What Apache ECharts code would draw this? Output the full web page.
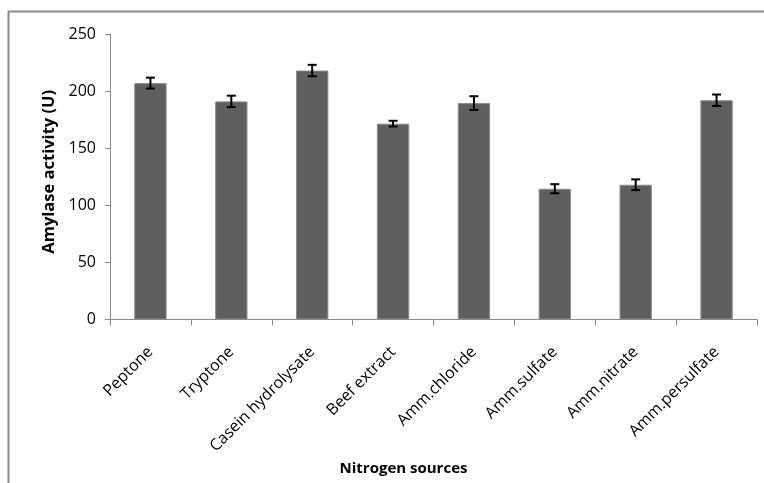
<!DOCTYPE html>
<html>
<head>
<meta charset="utf-8">
<script src="https://cdn.jsdelivr.net/npm/echarts@6/dist/echarts.min.js"></script>
<style>
  html, body { margin: 0; padding: 0; background: #fff; }
  #chart { width: 764px; height: 483px; }
</style>
</head>
<body>
<div id="chart"></div>
<script>
// Amylase activity for each nitrogen source (mean ± error)
const categories = ['Peptone', 'Tryptone', 'Casein hydrolysate', 'Beef extract',
  'Amm.chloride', 'Amm.sulfate', 'Amm.nitrate', 'Amm.persulfate'];
const activity = [207, 191, 218, 171.5, 189.5, 114.5, 118, 192];
const errors = [4.8, 5, 5, 2.5, 6, 4, 4.7, 5];
const yTicks = { min: 0, max: 250, interval: 50 };

const FONT = '"Open Sans", "Noto Sans", sans-serif';

const chart = echarts.init(document.getElementById('chart'), null, { renderer: 'canvas' });

const errorData = activity.map((v, i) => [i, v - errors[i], v + errors[i]]);

chart.setOption({
  animation: false,
  backgroundColor: '#fff',
  graphic: [{
    type: 'rect',
    shape: { x: 8.5, y: 11.5, width: 800, height: 520 },
    style: { fill: 'none', stroke: '#8a8a8a', lineWidth: 2 },
    silent: true,
    z: -1
  }],
  grid: { left: 110, right: 7, top: 34, bottom: 163.5 },
  xAxis: {
    type: 'category',
    data: categories,
    name: 'Nitrogen sources',
    nameLocation: 'middle',
    nameGap: 121,
    nameTextStyle: {
      fontFamily: FONT, fontWeight: 'bold', fontSize: 15, color: '#000',
      padding: [0, 60, 0, 0]
    },
    axisLine: { lineStyle: { color: '#8a8a8a', width: 1 } },
    axisTick: { show: true, length: 6, lineStyle: { color: '#8a8a8a' }, alignWithLabel: false },
    axisLabel: {
      rotate: 45, interval: 0, margin: 30,
      fontFamily: FONT, fontSize: 16, color: '#000'
    }
  },
  yAxis: {
    type: 'value',
    min: yTicks.min, max: yTicks.max, interval: yTicks.interval,
    name: 'Amylase activity (U)',
    nameLocation: 'middle',
    nameGap: 37,
    nameTextStyle: {
      fontFamily: FONT, fontWeight: 'bold', fontSize: 16.5, color: '#000',
      padding: [0, 0, 0, 10]
    },
    axisLine: { show: true, lineStyle: { color: '#8a8a8a', width: 1 } },
    axisTick: { show: true, length: 5, lineStyle: { color: '#8a8a8a' } },
    splitLine: { show: false },
    axisLabel: { margin: 14, fontFamily: FONT, fontSize: 16, color: '#000' }
  },
  series: [
    {
      type: 'bar',
      data: activity,
      barWidth: '40%',
      itemStyle: { color: '#5f5f5f', borderColor: '#8c8c8c', borderWidth: 1 }
    },
    {
      type: 'custom',
      data: errorData,
      z: 10,
      renderItem: function (params, api) {
        const x = api.coord([api.value(0), 0])[0];
        const lo = api.coord([api.value(0), api.value(1)])[1];
        const hi = api.coord([api.value(0), api.value(2)])[1];
        const half = 4.5;
        const st = { stroke: '#000', lineWidth: 2 };
        return {
          type: 'group',
          children: [
            { type: 'line', shape: { x1: x, y1: lo, x2: x, y2: hi }, style: st },
            { type: 'line', shape: { x1: x - half, y1: lo, x2: x + half, y2: lo }, style: st },
            { type: 'line', shape: { x1: x - half, y1: hi, x2: x + half, y2: hi }, style: st }
          ]
        };
      }
    }
  ]
});
</script>
</body>
</html>
